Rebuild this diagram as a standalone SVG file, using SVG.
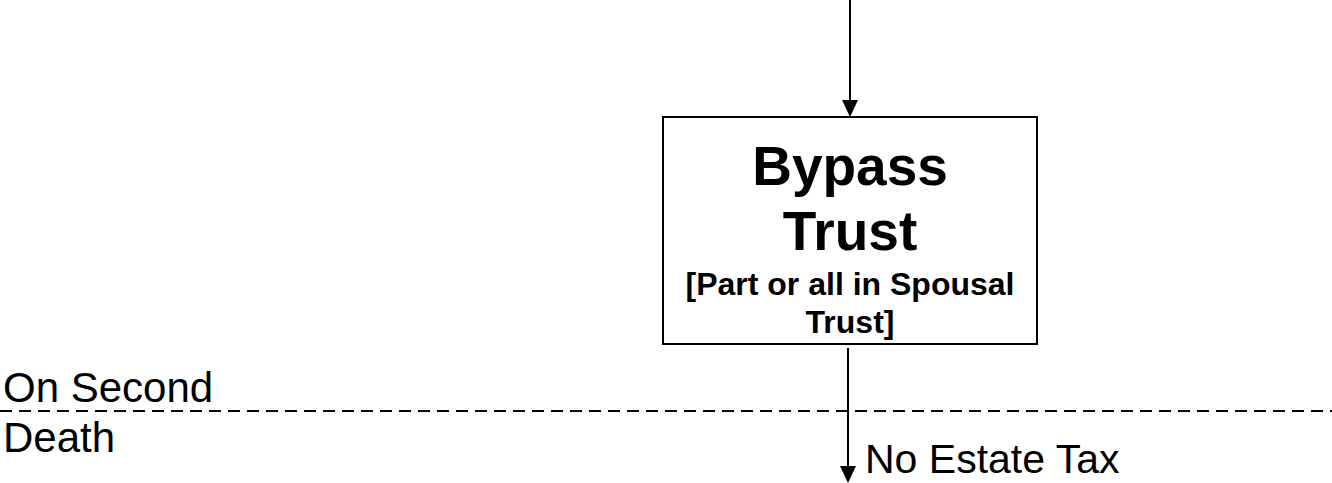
<svg xmlns="http://www.w3.org/2000/svg" width="1332" height="483" viewBox="0 0 1332 483">
<style>
.ln{stroke:#000;stroke-width:2;fill:none}
.dash{stroke:#000;stroke-width:2;stroke-dasharray:12 7;fill:none}
.box{fill:#fff;stroke:#000;stroke-width:2}
.head{fill:#000}
.t{font-family:"Liberation Sans",Arial,sans-serif;fill:#000}
.b{font-weight:bold;text-anchor:middle}
</style>
<g id="connectors">
<line class="dash" x1="0" y1="411" x2="1332" y2="411"/>
<line class="ln" x1="850" y1="0" x2="850" y2="102"/>
<path class="head" d="M842,100 L858,100 L850,117 Z"/>
<line class="ln" x1="848" y1="348" x2="848" y2="468"/>
<path class="head" d="M840,466 L856,466 L848,483 Z"/>
</g>
<g id="bypass-trust">
<rect class="box" x="663" y="117" width="374" height="227"/>
<text class="t b" x="850" y="185" font-size="55">Bypass</text>
<text class="t b" x="850" y="250" font-size="55">Trust</text>
<text class="t b" x="850" y="295" font-size="32">[Part or all in Spousal</text>
<text class="t b" x="850" y="333" font-size="32">Trust]</text>
</g>
<g id="labels">
<text class="t" x="3" y="402" font-size="42">On Second</text>
<text class="t" x="3" y="452" font-size="42">Death</text>
<text class="t" x="865" y="473" font-size="41">No Estate Tax</text>
</g>
</svg>
